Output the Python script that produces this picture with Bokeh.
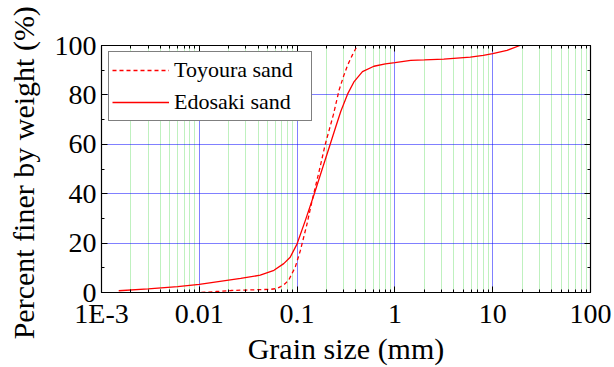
from bokeh.plotting import figure
from bokeh.models import (FixedTicker, CustomJSTickFormatter, LinearAxis, LogAxis,
                          Legend, LegendItem, Range1d)
from bokeh.embed import file_html
from bokeh.resources import INLINE

# ---- data ----
toyoura_size = [0.0105, 0.015, 0.021, 0.03, 0.045, 0.054, 0.062, 0.068, 0.075, 0.082,
                0.096, 0.108, 0.126, 0.142, 0.17, 0.194, 0.235, 0.269, 0.3, 0.328,
                0.37, 0.414]
toyoura_pct = [0.0, 0.4, 0.8, 1.0, 1.2, 1.3, 1.6, 2.4, 3.5, 5.0,
               10.4, 17.0, 27.6, 37.0, 50.0, 60.0, 72.0, 82.0, 87.8, 92.0,
               96.4, 100.0]

edosaki_size = [0.0015, 0.003, 0.006, 0.01, 0.0265, 0.042, 0.058, 0.073, 0.085, 0.1,
                0.121, 0.15, 0.18, 0.218, 0.25, 0.28, 0.328, 0.383, 0.466, 0.61,
                0.8, 1.0, 1.45, 2.0, 3.16, 5.9, 8.0, 10.0, 14.0, 19.0]
edosaki_pct = [0.7, 1.5, 2.4, 3.3, 5.7, 7.0, 9.0, 11.7, 14.3, 19.7,
               29.0, 40.0, 49.8, 60.0, 67.4, 73.4, 80.3, 85.4, 89.4, 91.6,
               92.6, 93.1, 94.0, 94.2, 94.5, 95.3, 96.0, 96.7, 98.0, 100.0]

x_tick_values = [0.001, 0.01, 0.1, 1, 10, 100]
x_tick_labels = ["1E-3", "0.01", "0.1", "1", "10", "100"]
y_tick_values = [0, 20, 40, 60, 80, 100]
y_minor_values = [10, 30, 50, 70, 90]

FONT = "serif"
RED = "#ff0000"

p = figure(x_axis_type="log", x_range=Range1d(0.001, 100), y_range=Range1d(0, 100),
           width=614, height=367,
           min_border_left=101, min_border_right=24, min_border_top=45, min_border_bottom=71,
           output_backend="svg", toolbar_location=None,
           x_axis_label="Grain size (mm)", y_axis_label="Percent  finer by weight (%)")
p.background_fill_color = "white"
p.border_fill_color = "white"
p.outline_line_color = "black"
p.outline_line_width = 1.2

x_minor = [m * 10.0 ** e for e in range(-3, 2) for m in range(2, 10)]
xticker = FixedTicker(ticks=x_tick_values, minor_ticks=x_minor)
yticker = FixedTicker(ticks=y_tick_values, minor_ticks=y_minor_values)

fmt = CustomJSTickFormatter(args=dict(vals=x_tick_values, labels=x_tick_labels), code="""
let best = 0;
for (let i = 0; i < vals.length; i++) {
  if (Math.abs(Math.log10(vals[i] / tick)) < Math.abs(Math.log10(vals[best] / tick))) best = i;
}
return labels[best];
""")

p.xaxis.ticker = xticker
p.xaxis.formatter = fmt
p.yaxis.ticker = yticker

def style_axis(ax, show_labels):
    ax.axis_line_color = "black"
    ax.major_tick_in = 6
    ax.major_tick_out = 0
    ax.minor_tick_in = 3
    ax.minor_tick_out = 0
    ax.major_tick_line_color = "black"
    ax.minor_tick_line_color = "black"
    ax.major_label_text_font = FONT
    ax.axis_label_text_font = FONT
    ax.axis_label_text_font_style = "normal"
    ax.axis_label_text_font_size = "30px"
    ax.axis_label_text_color = "black"
    if show_labels:
        ax.major_label_text_font_size = "28px"
        ax.major_label_text_color = "black"
    else:
        ax.major_label_text_font_size = "1px"
        ax.major_label_text_color = None
        ax.major_label_standoff = 0

for ax in p.xaxis:
    style_axis(ax, True)
    ax.major_label_standoff = 5
    ax.axis_label_standoff = 0
for ax in p.yaxis:
    style_axis(ax, True)
    ax.major_label_standoff = 5
    ax.axis_label_standoff = 12

top = LogAxis(ticker=xticker, formatter=fmt)
style_axis(top, False)
right = LinearAxis(ticker=yticker)
style_axis(right, False)
p.add_layout(top, "above")
p.add_layout(right, "right")

# grids
p.xgrid.ticker = xticker
p.xgrid.grid_line_color = "#0000ff"
p.xgrid.grid_line_dash = "1 1"
p.xgrid.grid_line_width = 1
p.xgrid.minor_grid_line_color = "#7fe27f"
p.xgrid.minor_grid_line_dash = "1 1"
p.xgrid.minor_grid_line_width = 1
p.ygrid.ticker = yticker
p.ygrid.grid_line_color = "#0000ff"
p.ygrid.grid_line_dash = "1 1"
p.ygrid.grid_line_width = 1

r1 = p.line(toyoura_size, toyoura_pct, line_color=RED, line_width=1.3, line_dash="4 3")
r2 = p.line(edosaki_size, edosaki_pct, line_color=RED, line_width=1.3)

legend = Legend(items=[LegendItem(label="Toyoura sand", renderers=[r1]),
                       LegendItem(label="Edosaki sand", renderers=[r2])],
                location=(7, 171))
legend.label_text_font = FONT
legend.label_text_font_size = "22px"
legend.label_text_color = "black"
legend.glyph_width = 57
legend.glyph_height = 30
legend.label_height = 30
legend.label_width = 134
legend.label_standoff = 5
legend.padding = 3
legend.spacing = 2
legend.margin = 0
legend.border_line_color = "black"
legend.border_line_width = 1
legend.background_fill_alpha = 1
p.add_layout(legend, "center")

open("out.html", "w").write(file_html(p, INLINE))
